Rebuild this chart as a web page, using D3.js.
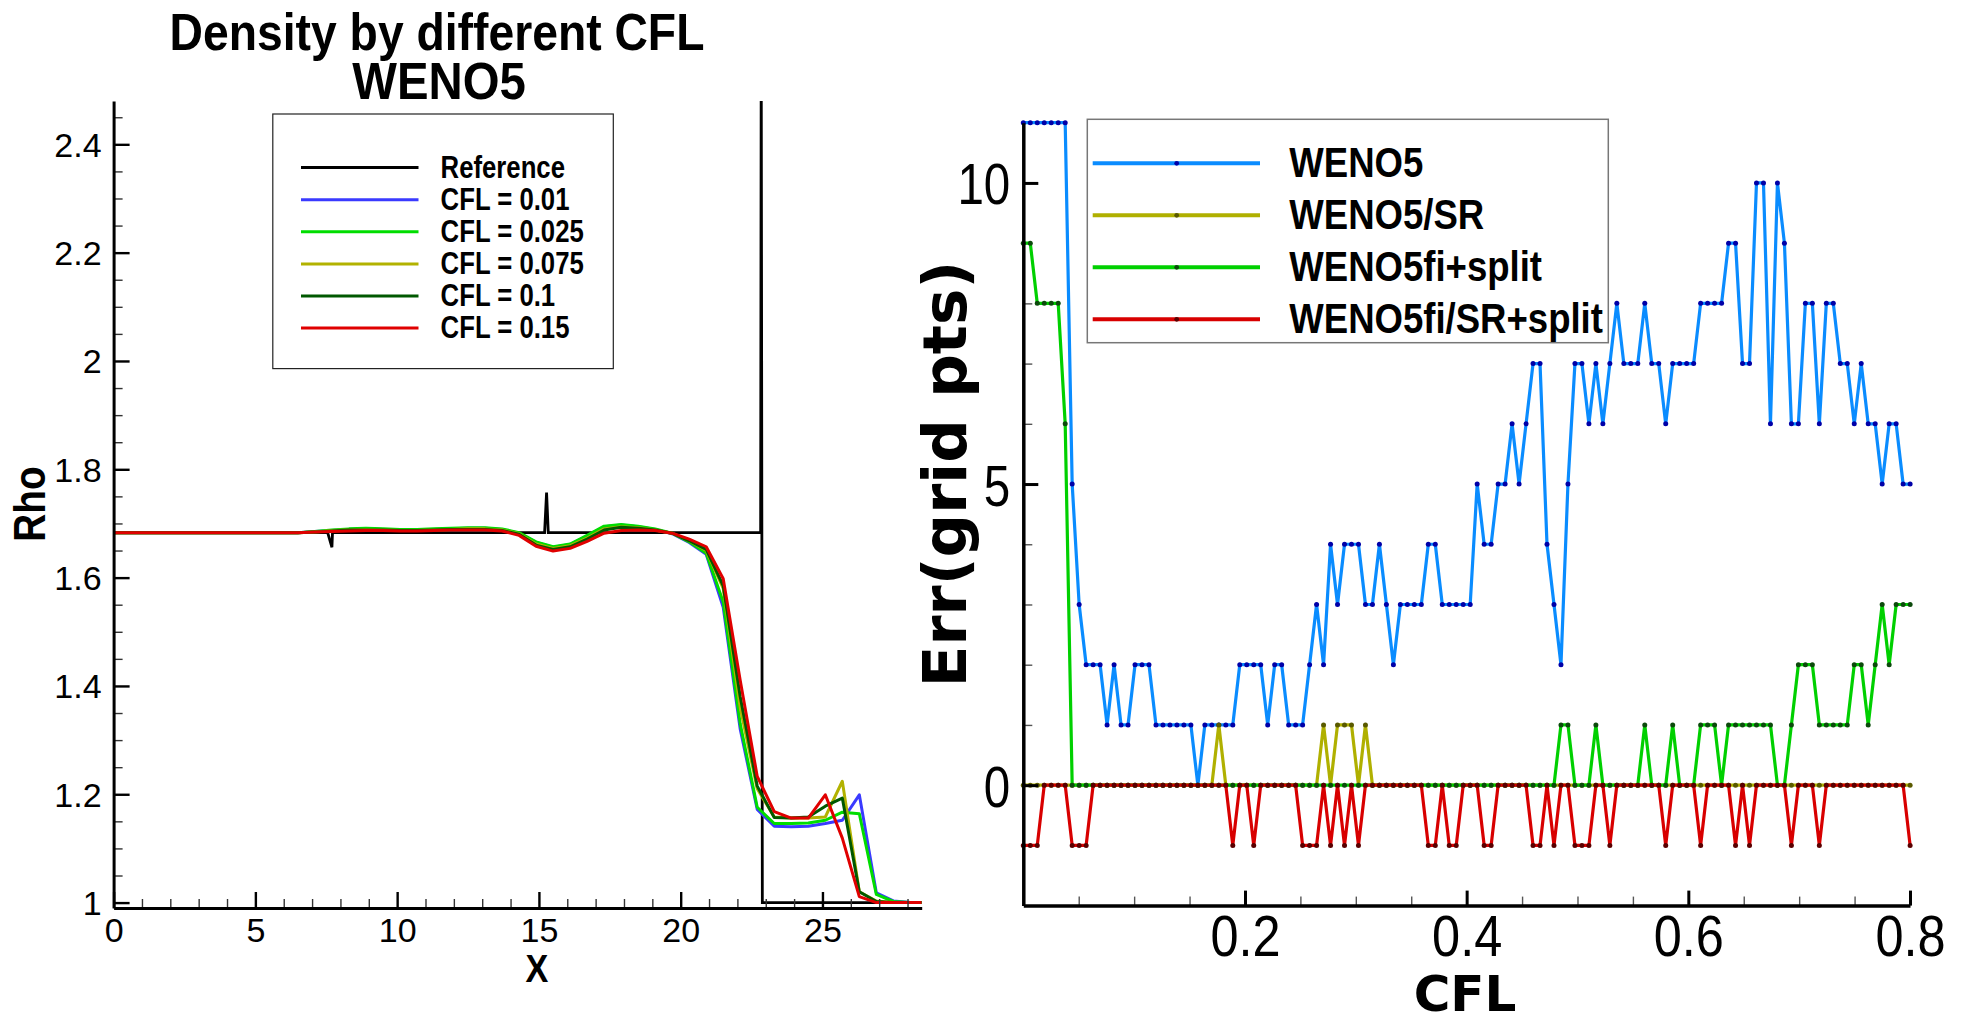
<!DOCTYPE html>
<html><head><meta charset="utf-8">
<script src="https://cdn.jsdelivr.net/npm/d3@7"></script>
<style>
body{margin:0;background:#fff;}
svg{display:block;}
</style></head><body>
<svg id="c" width="1965" height="1023"></svg>
<script>
// ---------------- LEFT CHART DATA ----------------
const densLabels = ["Reference", "CFL = 0.01", "CFL = 0.025", "CFL = 0.075", "CFL = 0.1", "CFL = 0.15"];
const refX = [0, 7.55, 7.7, 7.72, 15.2, 15.27, 15.33, 22.82, 22.84, 22.88, 28.5];
const refY = [1.683, 1.683, 1.656, 1.683, 1.683, 1.757, 1.683, 1.683, 2.6, 1.0, 1.0];
const densX = [0, 6.5, 7.1, 7.7, 8.3, 8.9, 9.5, 10.1, 10.7, 11.3, 11.9, 12.5, 13.1, 13.7, 14.3, 14.9, 15.5, 16.1, 16.7, 17.3, 17.9, 18.5, 19.1, 19.7, 20.3, 20.9, 21.5, 22.1, 22.7, 23.3, 23.9, 24.5, 25.1, 25.7, 26.3, 26.9, 27.5, 28.1, 28.5];
const rho001 = [1.683, 1.683, 1.685, 1.687, 1.689, 1.690, 1.689, 1.688, 1.688, 1.689, 1.690, 1.691, 1.691, 1.689, 1.682, 1.665, 1.656, 1.661, 1.677, 1.694, 1.697, 1.694, 1.689, 1.681, 1.665, 1.643, 1.545, 1.32, 1.172, 1.141, 1.140, 1.141, 1.146, 1.152, 1.199, 1.018, 1.003, 1.0, 1.0];
const rho0025 = [1.683, 1.683, 1.685, 1.688, 1.690, 1.691, 1.690, 1.689, 1.689, 1.690, 1.691, 1.692, 1.692, 1.690, 1.683, 1.666, 1.657, 1.662, 1.678, 1.695, 1.698, 1.695, 1.690, 1.682, 1.666, 1.645, 1.555, 1.33, 1.176, 1.146, 1.146, 1.147, 1.152, 1.167, 1.164, 1.015, 1.002, 1.0, 1.0];
const rho0075 = [1.683, 1.683, 1.684, 1.687, 1.688, 1.689, 1.688, 1.687, 1.687, 1.688, 1.689, 1.690, 1.690, 1.688, 1.681, 1.662, 1.654, 1.659, 1.673, 1.690, 1.694, 1.692, 1.688, 1.682, 1.668, 1.650, 1.580, 1.36, 1.21, 1.158, 1.156, 1.156, 1.158, 1.224, 1.02, 1.003, 1.0, 1.0, 1.0];
const rho01 = [1.683, 1.683, 1.684, 1.686, 1.688, 1.688, 1.688, 1.687, 1.687, 1.688, 1.689, 1.689, 1.689, 1.687, 1.680, 1.660, 1.652, 1.657, 1.671, 1.688, 1.693, 1.691, 1.688, 1.682, 1.668, 1.652, 1.585, 1.38, 1.215, 1.157, 1.156, 1.158, 1.178, 1.193, 1.02, 1.002, 1.0, 1.0, 1.0];
const rho015 = [1.683, 1.683, 1.684, 1.685, 1.686, 1.687, 1.687, 1.686, 1.686, 1.687, 1.688, 1.688, 1.688, 1.686, 1.678, 1.658, 1.649, 1.654, 1.667, 1.682, 1.687, 1.688, 1.687, 1.682, 1.671, 1.657, 1.598, 1.41, 1.233, 1.168, 1.156, 1.156, 1.199, 1.119, 1.011, 1.0, 1.0, 1.0, 1.0];
const densXTicks = [0, 5, 10, 15, 20, 25];
const densYTicks = [1, 1.2, 1.4, 1.6, 1.8, 2, 2.2, 2.4];

// ---------------- RIGHT CHART DATA ----------------
const errLabels = ["WENO5", "WENO5/SR", "WENO5fi+split", "WENO5fi/SR+split"];
const cfl = [0, 0.0063, 0.0126, 0.0189, 0.0252, 0.0315, 0.0378, 0.0441, 0.0504, 0.0567,
 0.063, 0.0693, 0.0756, 0.0819, 0.0882, 0.0945, 0.1008, 0.1071, 0.1134, 0.1197,
 0.126, 0.1323, 0.1386, 0.1449, 0.1512, 0.1575, 0.1638, 0.1701, 0.1764, 0.1827,
 0.189, 0.1953, 0.2016, 0.2079, 0.2142, 0.2205, 0.2268, 0.2331, 0.2394, 0.2457,
 0.252, 0.2583, 0.2646, 0.2709, 0.2772, 0.2835, 0.2898, 0.2961, 0.3024, 0.3087,
 0.315, 0.3213, 0.3276, 0.3339, 0.3402, 0.3465, 0.3528, 0.3591, 0.3654, 0.3717,
 0.378, 0.3843, 0.3906, 0.3969, 0.4032, 0.4095, 0.4158, 0.4221, 0.4284, 0.4347,
 0.441, 0.4473, 0.4536, 0.4599, 0.4662, 0.4725, 0.4788, 0.4851, 0.4914, 0.4977,
 0.504, 0.5103, 0.5166, 0.5229, 0.5292, 0.5355, 0.5418, 0.5481, 0.5544, 0.5607,
 0.567, 0.5733, 0.5796, 0.5859, 0.5922, 0.5985, 0.6048, 0.6111, 0.6174, 0.6237,
 0.63, 0.6363, 0.6426, 0.6489, 0.6552, 0.6615, 0.6678, 0.6741, 0.6804, 0.6867,
 0.693, 0.6993, 0.7056, 0.7119, 0.7182, 0.7245, 0.7308, 0.7371, 0.7434, 0.7497,
 0.756, 0.7623, 0.7686, 0.7749, 0.7812, 0.7875, 0.7938, 0.8001];
const errWeno5 = [11,11,11,11,11,11,11,5,3,2,
 2,2,1,2,1,1,2,2,2,1,
 1,1,1,1,1,0,1,1,1,1,
 1,2,2,2,2,1,2,2,1,1,
 1,2,3,2,4,3,4,4,4,3,
 3,4,3,2,3,3,3,3,4,4,
 3,3,3,3,3,5,4,4,5,5,
 6,5,6,7,7,4,3,2,5,7,
 7,6,7,6,7,8,7,7,7,8,
 7,7,6,7,7,7,7,8,8,8,
 8,9,9,7,7,10,10,6,10,9,
 6,6,8,8,6,8,8,7,7,6,
 7,6,6,5,6,6,5,5];
const errWeno5SR = [0,0,0,0,0,0,0,0,0,0,
 0,0,0,0,0,0,0,0,0,0,
 0,0,0,0,0,0,0,0,1,0,
 0,0,0,0,0,0,0,0,0,0,
 0,0,0,1,0,1,1,1,0,1,
 0,0,0,0,0,0,0,0,0,0,
 0,0,0,0,0,0,0,0,0,0,
 0,0,0,0,0,0,0,0,0,0,
 0,0,0,0,0,0,0,0,0,0,
 0,0,0,0,0,0,0,0,0,0,
 0,0,0,0,0,0,0,0,0,0,
 0,0,0,0,0,0,0,0,0,0,
 0,0,0,0,0,0,0,0];
const errFiSplit = [9,9,8,8,8,8,6,0,0,0,
 0,0,0,0,0,0,0,0,0,0,
 0,0,0,0,0,0,0,0,0,0,
 0,0,0,0,0,0,0,0,0,0,
 0,0,0,0,0,0,0,0,0,0,
 0,0,0,0,0,0,0,0,0,0,
 0,0,0,0,0,0,0,0,0,0,
 0,0,0,0,0,0,0,1,1,0,
 0,0,1,0,0,0,0,0,0,1,
 0,0,0,1,0,0,0,1,1,1,
 0,1,1,1,1,1,1,1,0,0,
 1,2,2,2,1,1,1,1,1,2,
 2,1,2,3,2,3,3,3];
const errFiSRSplit = [-1,-1,-1,0,0,0,0,-1,-1,-1,
 0,0,0,0,0,0,0,0,0,0,
 0,0,0,0,0,0,0,0,0,0,
 -1,0,0,-1,0,0,0,0,0,0,
 -1,-1,-1,0,-1,0,-1,0,-1,0,
 0,0,0,0,0,0,0,0,-1,-1,
 0,-1,-1,0,0,0,-1,-1,0,0,
 0,0,0,-1,-1,0,-1,0,0,-1,
 -1,-1,0,0,-1,0,0,0,0,0,
 0,0,-1,0,0,0,0,-1,0,0,
 0,0,-1,0,-1,0,0,0,0,0,
 -1,0,0,0,-1,0,0,0,0,0,
 0,0,0,0,0,0,0,-1];
const errXTicks = [0.2, 0.4, 0.6, 0.8];
const errYTicks = [0, 5, 10];

// ---------------- DRAWING ----------------
const svg = d3.select("#c");
const FONT = "'Liberation Sans', Arial, Helvetica, sans-serif";
const DJ = "'DejaVu Sans', sans-serif";
const plain = d => String(d);
function label(g, s, x, y, o) {
  return g.append("text").text(s)
    .attr("transform", `translate(${x},${y})` + (o.rot ? ` rotate(${o.rot})` : "") + ` scale(${o.sx || 1},1)`)
    .attr("text-anchor", o.anchor || "middle")
    .attr("font-family", o.family || FONT)
    .attr("font-weight", o.bold ? "bold" : "normal")
    .attr("font-size", o.size)
    .attr("fill", "#000");
}

// ===== LEFT =====
const L = {x0: 113.6, x1: 921.7, y0: 908, y1: 101};
const xL = d3.scaleLinear().domain([0, 28.5]).range([L.x0, L.x1]);
const yL = d3.scaleLinear().domain([0.99, 2.48]).range([L.y0, L.y1]);
const gL = svg.append("g");
gL.append("clipPath").attr("id", "clipL").append("rect")
  .attr("x", L.x0).attr("y", L.y1).attr("width", L.x1 - L.x0).attr("height", L.y0 - L.y1);

const densSeries = [
  {name: densLabels[1], y: rho001, color: "#3a3aff"},
  {name: densLabels[2], y: rho0025, color: "#00dd00"},
  {name: densLabels[3], y: rho0075, color: "#b2b200"},
  {name: densLabels[4], y: rho01, color: "#005800"},
  {name: densLabels[5], y: rho015, color: "#e00000"}
];
const plotL = gL.append("g").attr("clip-path", "url(#clipL)");
plotL.append("path")
  .attr("d", d3.line().x((d, i) => xL(refX[i])).y(d => yL(d))(refY))
  .attr("fill", "none").attr("stroke", "#000").attr("stroke-width", 2.8);
densSeries.forEach(s => {
  plotL.append("path")
    .attr("d", d3.line().x((d, i) => xL(densX[i])).y(d => yL(d))(s.y))
    .attr("fill", "none").attr("stroke", s.color).attr("stroke-width", 3)
    .attr("stroke-linejoin", "round");
});

// left axes
const lMinorY = d3.range(1.05, 2.47, 0.05).filter(v => Math.abs(v * 5 - Math.round(v * 5)) > 1e-6);
const lMinorX = d3.range(1, 29, 1).filter(v => v % 5 !== 0);
gL.append("g").attr("transform", `translate(${L.x0},0)`)
  .call(d3.axisLeft(yL).tickValues(lMinorY).tickSize(-9).tickSizeOuter(0).tickFormat(""))
  .call(g => g.select(".domain").remove())
  .selectAll("line").attr("stroke", "#333").attr("stroke-width", 1.4);
gL.append("g").attr("transform", `translate(0,${L.y0})`)
  .call(d3.axisBottom(xL).tickValues(lMinorX).tickSize(-9).tickSizeOuter(0).tickFormat(""))
  .call(g => g.select(".domain").remove())
  .selectAll("line").attr("stroke", "#333").attr("stroke-width", 1.4);
const axLY = gL.append("g").attr("transform", `translate(${L.x0},0)`)
  .call(d3.axisLeft(yL).tickValues(densYTicks).tickFormat(plain).tickSize(-16).tickSizeOuter(0).tickPadding(12));
const axLX = gL.append("g").attr("transform", `translate(0,${L.y0})`)
  .call(d3.axisBottom(xL).tickValues(densXTicks).tickFormat(plain).tickSize(-16).tickSizeOuter(0).tickPadding(12));
[axLY, axLX].forEach(a => {
  a.select(".domain").attr("stroke", "#000").attr("stroke-width", 3);
  a.selectAll(".tick line").attr("stroke", "#000").attr("stroke-width", 2.4);
  a.selectAll("text").attr("font-family", FONT).attr("font-size", 34).attr("fill", "#000");
});
axLY.selectAll("text").attr("dy", null).attr("x", -12).attr("y", 12);
axLX.selectAll("text").attr("dy", null).attr("y", 34);

// left titles
label(gL, "Density by different CFL", 437, 50, {size: 52, bold: true, sx: 0.89});
label(gL, "WENO5", 439, 99, {size: 52, bold: true, sx: 0.91});
label(gL, "Rho", 45, 504, {size: 44, bold: true, sx: 0.88, rot: -90});
label(gL, "X", 537, 982, {size: 38, bold: true, sx: 0.9});

// left legend
gL.append("rect").attr("x", 272.8).attr("y", 114).attr("width", 340.5).attr("height", 254.6)
  .attr("fill", "#fff").attr("stroke", "#222").attr("stroke-width", 1.2);
const legL = [{name: densLabels[0], color: "#000"}].concat(densSeries);
legL.forEach((s, k) => {
  const yy = 167.6 + 32.1 * k;
  gL.append("line").attr("x1", 301).attr("x2", 418.5).attr("y1", yy).attr("y2", yy)
    .attr("stroke", s.color).attr("stroke-width", 3);
  label(gL, s.name, 440.6, yy + 10, {size: 31, bold: true, sx: 0.83, anchor: "start"});
});

// ===== RIGHT =====
const R = {x0: 1023.3, x1: 1910, y0: 905.6, y1: 122.7};
const xR = d3.scaleLinear().domain([0, 0.8]).range([R.x0, R.x1]);
const yR = d3.scaleLinear().domain([-2, 11]).range([R.y0, R.y1]);
const gR = svg.append("g");

const errSeries = [
  {name: errLabels[0], y: errWeno5, color: "#0a8cff", dot: "#0000a8"},
  {name: errLabels[1], y: errWeno5SR, color: "#b0b000", dot: "#5a5a00"},
  {name: errLabels[2], y: errFiSplit, color: "#00d000", dot: "#0c4a0c"},
  {name: errLabels[3], y: errFiSRSplit, color: "#d80000", dot: "#5a0000"}
];

// right axes minor
const rMinorX = d3.range(0.05, 0.8, 0.05).filter(v => Math.abs(v * 5 - Math.round(v * 5)) > 1e-6);
const rMinorY = [-1, 1, 2, 3, 4, 6, 7, 8, 9];
gR.append("g").attr("transform", `translate(${R.x0},0)`)
  .call(d3.axisLeft(yR).tickValues(rMinorY).tickSize(-9).tickSizeOuter(0).tickFormat(""))
  .call(g => g.select(".domain").remove())
  .selectAll("line").attr("stroke", "#555").attr("stroke-width", 1.4);
gR.append("g").attr("transform", `translate(0,${R.y0})`)
  .call(d3.axisBottom(xR).tickValues(rMinorX).tickSize(-9).tickSizeOuter(0).tickFormat(""))
  .call(g => g.select(".domain").remove())
  .selectAll("line").attr("stroke", "#555").attr("stroke-width", 1.4);

errSeries.forEach(s => {
  const gs = gR.append("g");
  gs.append("path")
    .attr("d", d3.line().x((d, i) => xR(cfl[i])).y(d => yR(d))(s.y))
    .attr("fill", "none").attr("stroke", s.color).attr("stroke-width", 3.2)
    .attr("stroke-linejoin", "round");
  gs.selectAll("circle").data(s.y).join("circle")
    .attr("cx", (d, i) => xR(cfl[i])).attr("cy", d => yR(d)).attr("r", 2.5)
    .attr("fill", s.dot);
});

const axRY = gR.append("g").attr("transform", `translate(${R.x0},0)`)
  .call(d3.axisLeft(yR).tickValues(errYTicks).tickFormat(plain).tickSize(-15).tickSizeOuter(0).tickPadding(13));
const axRX = gR.append("g").attr("transform", `translate(0,${R.y0})`)
  .call(d3.axisBottom(xR).tickValues(errXTicks).tickFormat(plain).tickSize(-15).tickSizeOuter(0).tickPadding(12));
[axRY, axRX].forEach(a => {
  a.select(".domain").attr("stroke", "#000").attr("stroke-width", 3.5);
  a.selectAll(".tick line").attr("stroke", "#000").attr("stroke-width", 3);
  a.selectAll("text").attr("font-family", FONT).attr("font-size", 58).attr("fill", "#000");
});
axRY.selectAll("text").attr("dy", null).attr("x", null)
  .attr("transform", "translate(-13,21) scale(0.82,1)");
axRX.selectAll("text").attr("dy", null).attr("y", null)
  .attr("transform", "translate(0,50) scale(0.87,1)");

label(gR, "CFL", 1465, 1011, {size: 50, bold: true, family: DJ});
label(gR, "Err(grid pts)", 966, 474, {size: 61, bold: true, family: DJ, rot: -90});

// right legend
gR.append("rect").attr("x", 1087.3).attr("y", 119.3).attr("width", 521).attr("height", 223.4)
  .attr("fill", "#fff").attr("stroke", "#777").attr("stroke-width", 1.5);
errSeries.forEach((s, k) => {
  const yy = 163.3 + 52 * k;
  gR.append("line").attr("x1", 1092.7).attr("x2", 1260).attr("y1", yy).attr("y2", yy)
    .attr("stroke", s.color).attr("stroke-width", 4);
  gR.append("circle").attr("cx", 1176.7).attr("cy", yy).attr("r", 2.4).attr("fill", s.dot);
  label(gR, s.name, 1289.3, yy + 14, {size: 42, bold: true, sx: 0.87, anchor: "start"});
});
</script></body></html>
